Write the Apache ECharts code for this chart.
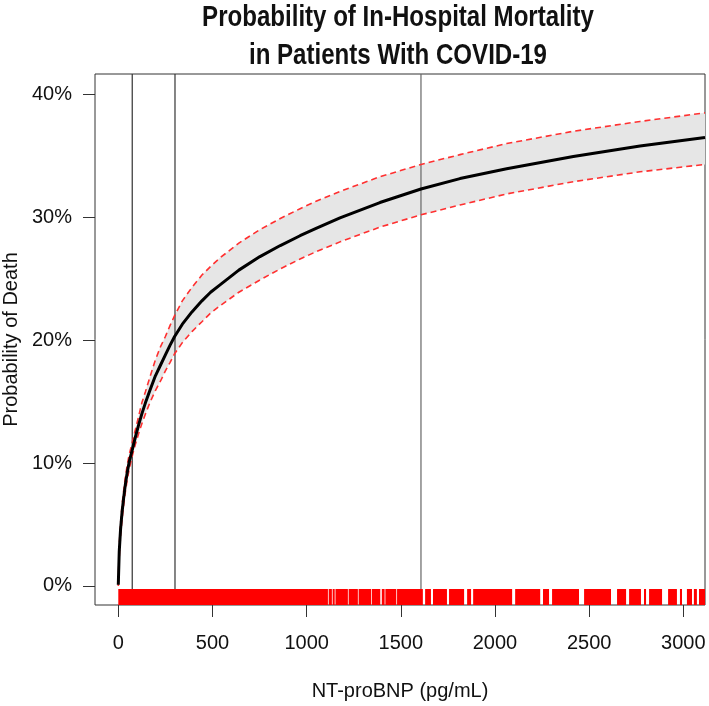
<!DOCTYPE html>
<html><head><meta charset="utf-8">
<script src="https://cdn.jsdelivr.net/npm/echarts@6/dist/echarts.min.js"></script>
<style>html,body{margin:0;padding:0;background:#fff}#c{width:709px;height:706px}</style>
</head><body><div id="c"></div>
<script>
// NT-proBNP (pg/mL) sample points along the fitted curve
const ntprobnp  = [0,   5,   12,  20,  28,  37,  47,  58,   76,   92,   108,  125,  144,  170,  197,  225,  250,  275,  299,  340,  391,  444,  490,  540,  640,  752,  860,  965,  1050, 1177, 1389, 1607, 1814, 2062, 2416, 2770, 3115];
// probability of death (%)
const probMid   = [0.1, 2.8, 4.6, 6.0, 7.1, 8.2, 9.2, 10.1, 11.2, 12.2, 13.1, 14.0, 14.9, 16.0, 17.1, 18.0, 18.8, 19.6, 20.3, 21.3, 22.3, 23.2, 23.9, 24.5, 25.7, 26.8, 27.7, 28.5, 29.1, 29.95, 31.2, 32.3, 33.15, 33.95, 34.95, 35.8, 36.5];
const probUpper = [0.3, 3.3, 5.1, 6.6, 7.7, 8.8, 9.8, 10.7, 11.8, 12.8, 13.8, 14.9, 15.8, 17.1, 18.4, 19.5, 20.3, 21.2, 22.0, 23.2, 24.3, 25.3, 26.0, 26.7, 27.9, 29.0, 29.9, 30.7, 31.3, 32.1, 33.3, 34.3, 35.1, 36.0, 37.0, 37.8, 38.5];
const probLower = [0.0, 2.3, 4.1, 5.4, 6.5, 7.6, 8.6, 9.5, 10.7, 11.6, 12.4, 13.2, 14.0, 15.0, 15.9, 16.7, 17.5, 18.2, 18.9, 19.8, 20.7, 21.5, 22.2, 22.8, 23.9, 24.9, 25.8, 26.6, 27.2, 28.0, 29.2, 30.2, 31.0, 31.9, 32.9, 33.7, 34.3];
// vertical reference lines (pg/mL)
const refLines = [74, 301, 1607];
// rug of observations, as covered [from, to] ranges (pg/mL)
const rugSegments = [[0,1113],[1117,1134],[1138,1149],[1153,1219],[1223,1272],[1276,1343],[1347,1391],[1399,1414],[1418,1476],[1480,1617],[1629,1660],[1671,1745],[1756,1836],[1852,1873],[1884,2091],[2107,2240],[2255,2287],[2303,2446],[2473,2616],[2648,2696],[2712,2775],[2791,2802],[2818,2887],[2919,2966],[2982,2993],[3019,3046],[3056,3072],[3083,3115]];
const xTicks = [0, 500, 1000, 1500, 2000, 2500, 3000];
const yTicks = [0, 10, 20, 30, 40];
const titleLines = ['Probability of In-Hospital Mortality', 'in Patients With COVID-19'];

const X_MIN = -123.7, X_MAX = 3115, Y_MIN = -1.55, Y_MAX = 41.66, RUG_TOP = -0.25;
const FONT = "'Liberation Sans', Arial, Helvetica, sans-serif";

const chart = echarts.init(document.getElementById('c'), null, {renderer: 'canvas'});
const pair = (arr) => ntprobnp.map((x, i) => [x, arr[i]]);

chart.setOption({
  animation: false,
  backgroundColor: '#fff',
  graphic: titleLines.map((t, i) => ({
    type: 'text', x: 398, y: 17.5 + i * 38.6, scaleX: 0.83, silent: true,
    style: {text: t, fill: '#111', font: "bold 29px 'Liberation Sans', Arial, sans-serif",
      textAlign: 'center', textVerticalAlign: 'middle'}
  })),
  grid: {left: 95, right: 4, top: 74, bottom: 101, show: true, borderColor: '#333', borderWidth: 1,
    backgroundColor: 'transparent', outerBoundsMode: 'none', containLabel: false},
  xAxis: {
    type: 'value', min: X_MIN, max: X_MAX,
    name: 'NT-proBNP (pg/mL)', nameLocation: 'middle', nameGap: 76,
    nameTextStyle: {fontFamily: FONT, fontSize: 20, color: '#111'},
    axisLine: {show: false, onZero: false}, splitLine: {show: false},
    axisTick: {show: true, inside: false, customValues: xTicks, length: 12, lineStyle: {color: '#333', width: 1}},
    axisLabel: {customValues: xTicks, fontFamily: FONT, fontSize: 20, color: '#111', margin: 28,
      formatter: v => String(Math.round(v))}
  },
  yAxis: {
    type: 'value', min: Y_MIN, max: Y_MAX,
    name: 'Probability of Death', nameLocation: 'middle', nameGap: 73, nameRotate: 90,
    nameTextStyle: {fontFamily: FONT, fontSize: 20, color: '#111'},
    axisLine: {show: false, onZero: false}, splitLine: {show: false},
    axisTick: {show: true, inside: false, customValues: yTicks, length: 12, lineStyle: {color: '#333', width: 1}},
    axisLabel: {customValues: yTicks, fontFamily: FONT, fontSize: 20, color: '#111', margin: 23,
      formatter: v => Math.round(v) + '%'}
  },
  series: [
    { // confidence band
      type: 'custom', clip: true, silent: true, z: 1,
      data: [[0, 0]],
      renderItem: (params, api) => {
        const up = ntprobnp.map((x, i) => api.coord([x, probUpper[i]]));
        const lo = ntprobnp.map((x, i) => api.coord([x, probLower[i]])).reverse();
        return {type: 'polygon', shape: {points: up.concat(lo)}, style: {fill: '#e6e6e6', stroke: null}};
      }
    },
    { // vertical reference lines
      type: 'custom', clip: true, silent: true, z: 2,
      data: refLines.map(v => [v]),
      renderItem: (params, api) => {
        const a = api.coord([api.value(0), Y_MIN]);
        const b = api.coord([api.value(0), Y_MAX]);
        return {type: 'line', shape: {x1: a[0], y1: a[1], x2: b[0], y2: b[1]},
          style: {stroke: params.dataIndex === 2 ? '#666' : '#333', lineWidth: 1.2}};
      }
    },
    {type: 'line', data: pair(probUpper), symbol: 'none', z: 3, silent: true,
      lineStyle: {color: '#ff3030', width: 1.6, type: [6, 4]}},
    {type: 'line', data: pair(probLower), symbol: 'none', z: 3, silent: true,
      lineStyle: {color: '#ff3030', width: 1.6, type: [6, 4]}},
    {type: 'line', data: pair(probMid), symbol: 'none', z: 4, silent: true,
      lineStyle: {color: '#000', width: 3, join: 'round'}},
    { // rug
      type: 'custom', clip: true, silent: true, z: 5,
      data: rugSegments,
      renderItem: (params, api) => {
        const a = api.coord([api.value(0), RUG_TOP]);
        const b = api.coord([api.value(1), Y_MIN]);
        return {type: 'rect', shape: {x: a[0], y: a[1], width: Math.max(1, b[0] - a[0]), height: b[1] - a[1]},
          style: {fill: '#ff0000'}};
      }
    }
  ]
});
</script></body></html>
